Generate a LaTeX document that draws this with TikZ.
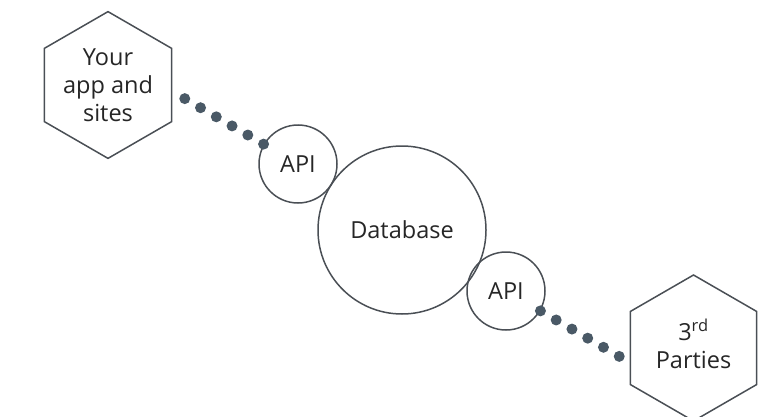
\documentclass[tikz,border=0pt]{standalone}
\usepackage{fontspec}
\setmainfont{Open Sans}
\usepackage{xcolor}
\usetikzlibrary{shapes.geometric,calc}

\definecolor{edge}{HTML}{4A4F55}
\definecolor{dotc}{HTML}{4A5966}
\definecolor{ink}{HTML}{262626}

\tikzset{
  hexa/.style={draw=edge, line width=1.5pt, regular polygon, regular polygon sides=6,
    shape border rotate=30, minimum size=146pt, inner sep=0pt, align=center,
    text=ink, font=\fontsize{23.5}{28}\selectfont},
  bubble/.style={draw=edge, line width=1.5pt, circle, inner sep=0pt,
    text=ink, font=\fontsize{23.5}{28}\selectfont},
  dotline/.style={dotc, line width=11pt, line cap=round, dash pattern=on 0pt off 18.2pt}
}

\begin{document}
\begin{tikzpicture}[x=1pt, y=1pt]
\useasboundingbox (0,0) rectangle (781,416);

\node[hexa] (app) at (108,331) {Your\\app and\\sites};
\node[bubble, minimum size=78pt] (api1) at (298,252) {API};
\node[bubble, minimum size=168pt] (db) at (402,186) {Database};
\node[bubble, minimum size=78pt] (api2) at (506,125) {API};
\node[hexa] (third) at (693.5,68) {3\textsuperscript{rd}\\Parties\\[-20pt]\mbox{}};

% dotted links
\coordinate (append) at ($(api1.150)+(150:91)$);
\coordinate (thirdend) at ($(api2.-30)+(-30:91)$);
\draw[dotline] (api1.150) -- (append);
\draw[dotline] (api2.-30) -- (thirdend);
\end{tikzpicture}
\end{document}
